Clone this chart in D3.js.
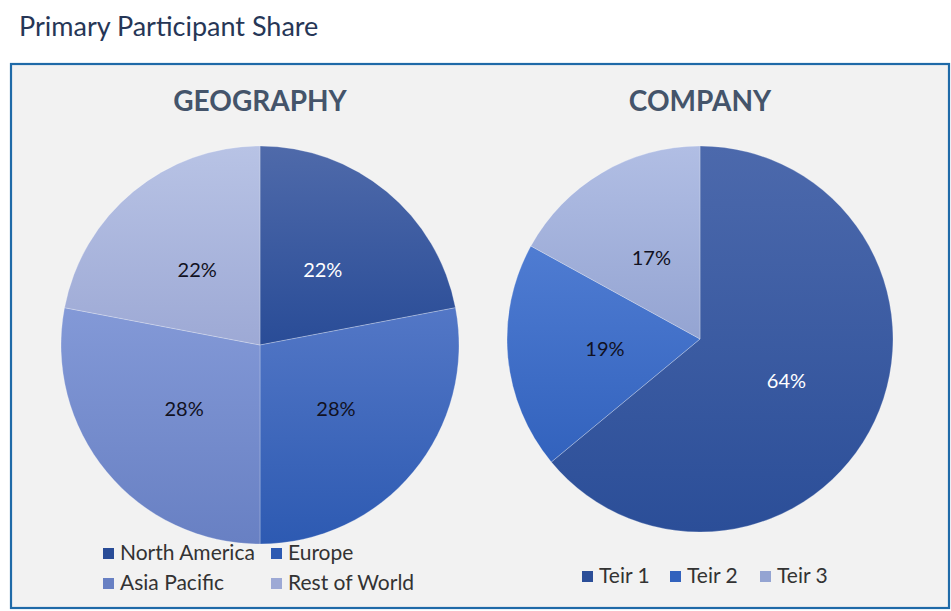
<!DOCTYPE html>
<html><head><meta charset="utf-8">
<script src="https://cdn.jsdelivr.net/npm/d3@7"></script>
<style>body{margin:0;background:#fff;}svg{display:block;}</style>
</head><body>
<svg id="c" width="951" height="611"></svg>
<script>
const geoCategories = ["North America", "Europe", "Asia Pacific", "Rest of World"];
const geoValues = [22, 28, 28, 22];
const compCategories = ["Teir 1", "Teir 2", "Teir 3"];
const compValues = [64, 19, 17];
const geoColors = [["#4f6aaa","#294c97"],["#5377c6","#2d5ab2"],["#8399d7","#6880c3"],["#b8c3e5","#9da9d5"]];
const compColors = [["#4c69ac","#2b4e98"],["#4f7cd2","#3262bd"],["#b1bee4","#94a4d2"]];
const geoLabelColors = ["#ffffff","#111122","#111122","#111122"];
const compLabelColors = ["#ffffff","#111122","#111122"];

const svg = d3.select("#c");
const FONT = "Lato, 'Open Sans', sans-serif";
svg.append("text").attr("x",19).attr("y",36).attr("font-family",FONT)
  .attr("font-size",27).attr("fill","#263656").text("Primary Participant Share");
svg.append("rect").attr("x",11).attr("y",64).attr("width",938).attr("height",544)
  .attr("fill","#f2f2f2").attr("stroke","#1f6aa8").attr("stroke-width",2.2);

const defs = svg.append("defs");
function drawPie(id, cx, cy, r, title, cats, vals, cols, lcols){
  const g = svg.append("g").attr("transform",`translate(${cx},${cy})`);
  const pie = d3.pie().sort(null).value(d=>d)(vals);
  const arc = d3.arc().innerRadius(0).outerRadius(r);
  pie.forEach((p,i)=>{
    const gr = defs.append("linearGradient").attr("id",id+i).attr("x1",0).attr("y1",0).attr("x2",0).attr("y2",1);
    gr.append("stop").attr("offset","0%").attr("stop-color",cols[i][0]);
    gr.append("stop").attr("offset","100%").attr("stop-color",cols[i][1]);
    g.append("path").attr("d",arc(p)).attr("fill",`url(#${id+i})`)
      .attr("stroke","#ffffff").attr("stroke-opacity",0.25).attr("stroke-width",1);
  });
  const la = d3.arc().innerRadius(r*0.99).outerRadius(0);
  pie.forEach((p,i)=>{
    const c = la.centroid(p);
    g.append("text").attr("x",c[0]).attr("y",c[1]+1).attr("dy","0.36em").attr("text-anchor","middle")
      .attr("font-family",FONT).attr("font-size",20).attr("fill",lcols[i]).text(vals[i]+"%");
  });
  svg.append("text").attr("x",cx).attr("y",111).attr("text-anchor","middle").attr("font-family",FONT)
    .attr("font-weight","bold").attr("font-size",28).attr("fill","#44546a").text(title);
}
drawPie("g",260,345,199,"GEOGRAPHY",geoCategories,geoValues,geoColors,geoLabelColors);
drawPie("k",700,339,193,"COMPANY",compCategories,compValues,compColors,compLabelColors);

function legendItem(x,y,label,col){
  svg.append("rect").attr("x",x).attr("y",y-12).attr("width",11).attr("height",11).attr("fill",col);
  svg.append("text").attr("x",x+17).attr("y",y).attr("font-family",FONT).attr("font-size",21)
    .attr("fill","#333333").text(label);
}
const geoPos = [[103,560],[271,560],[103,590],[271,590]];
geoCategories.forEach((c,i)=>legendItem(geoPos[i][0],geoPos[i][1],c,geoColors[i][1]));
const compX = [582,670,760];
compCategories.forEach((c,i)=>legendItem(compX[i],583,c,compColors[i][1]));
</script>
</body></html>
